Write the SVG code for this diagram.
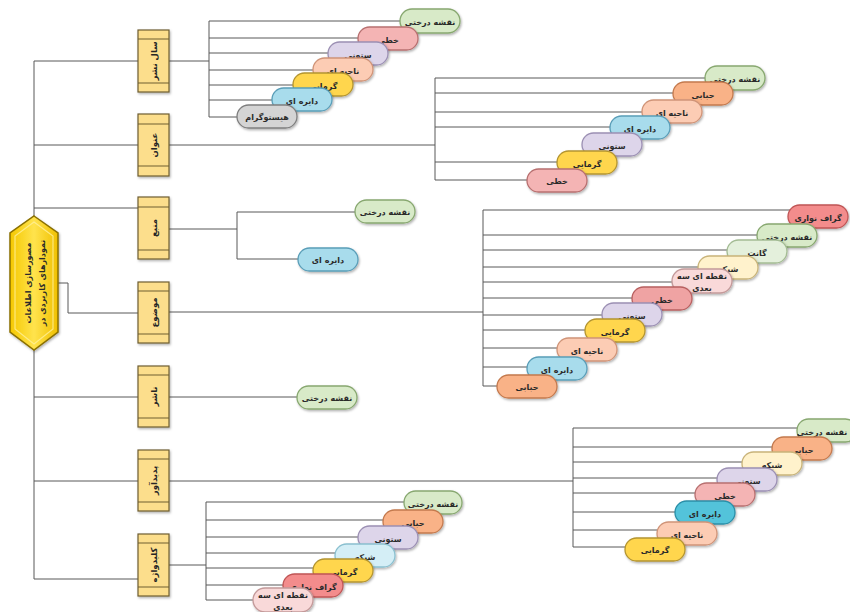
<svg xmlns="http://www.w3.org/2000/svg" width="850" height="612" viewBox="0 0 850 612">
<defs>
<filter id="sh" x="-20%" y="-20%" width="140%" height="150%"><feDropShadow dx="1" dy="1.5" stdDeviation="1" flood-color="#000" flood-opacity="0.3"/></filter>
<linearGradient id="gold" x1="0" y1="0" x2="1" y2="0"><stop offset="0" stop-color="#F5C800"/><stop offset="0.5" stop-color="#FFE34D"/><stop offset="1" stop-color="#F0C000"/></linearGradient>
</defs>
<style>
.ln{fill:none;stroke:#595959;stroke-width:1}
.box{fill:#FCDE8C;stroke:#6E5E30;stroke-width:1.2}
.band{stroke:#6E5E30;stroke-width:1}
.t{font-family:"DejaVu Sans",sans-serif;font-size:8px;font-weight:bold;fill:#2a2a2a;text-anchor:middle}
.bt{font-family:"DejaVu Sans",sans-serif;font-size:8.5px;font-weight:bold;fill:#262626;text-anchor:middle}
.p{stroke-width:1.3;filter:url(#sh)}
.tree{fill:#D8EAC8;stroke:#88A870}
.line{fill:#F4B4B4;stroke:#B87070}
.col{fill:#DDD5EA;stroke:#9C90B4}
.area{fill:#FCCCB4;stroke:#D09478}
.heat{fill:#FFD64D;stroke:#B49530}
.pie{fill:#A8DCEC;stroke:#5A9EB8}
.pie2{fill:#52C3DA;stroke:#2B8FA8}
.hist{fill:#D4D4D4;stroke:#7F7F7F}
.bub{fill:#F9B287;stroke:#C47A4E}
.bar{fill:#F38C8C;stroke:#C05656}
.gantt{fill:#E4F0DC;stroke:#A4BC94}
.net{fill:#FFF2CC;stroke:#C9B47A}
.net2{fill:#D4EEF6;stroke:#8AC0D0}
.sc{fill:#F9D9D9;stroke:#C49A9A}
.line2{fill:#EFA3A3;stroke:#B86060}
</style>
<g id="connectors">
<path class="ln" d="M34 61V579M34 61H138M34 145H138M34 208H138M34 397H138M34 481H138M34 579H138M58 283H68V313H138"/>
<path class="ln" d="M169 61H209M209 21V117M209 21H405M209 38H363M209 53H333M209 70H318M209 85H298M209 100H277M209 117H242"/>
<path class="ln" d="M169 145H435M435 78V180M435 78H710M435 93H678M435 112H647M435 127H615M435 162H562M435 180H532"/>
<path class="ln" d="M169 229H237M237 212V259M237 212H360M237 259H303"/>
<path class="ln" d="M169 312H483M483 210V386M483 210H793M483 235H762M483 250H732M483 267H703M483 282H677M483 298H637M483 315H607M483 330H590M483 348H562M483 367H532M483 386H502"/>
<path class="ln" d="M169 397H302"/>
<path class="ln" d="M169 481H573M573 428V547M573 428H802M573 447H777M573 462H747M573 478H722M573 493H700M573 512H680M573 530H662M573 547H630"/>
<path class="ln" d="M169 565H206M206 502V600M206 502H409M206 520H388M206 537H363M206 553H340M206 568H318M206 585H288M206 600H258"/>
</g>
<g id="root">
<polygon points="34,216 58,233 58,332 34,350 10,332 10,233" fill="url(#gold)" stroke="#8A7000" stroke-width="1.5" filter="url(#sh)"/>
<polygon points="34,222 53,236 53,329 34,344 15,329 15,236" fill="none" stroke="#FFF09A" stroke-width="1.2" opacity="0.8"/>
<text class="t" transform="translate(34,283) rotate(-90)"><tspan x="0" y="-3.5">مصورسازی اطلاعات</tspan><tspan x="0" y="10.5">نمودارهای کاربردی در</tspan></text>
</g>
<g id="cat-year"><rect class="box" x="138" y="30" width="31" height="62" filter="url(#sh)"/><path class="band" d="M138 39H169M138 83H169"/><text class="bt" transform="translate(153.5,61) rotate(-90)" y="3.5">سال نشر</text></g>
<g id="cat-title"><rect class="box" x="138" y="114" width="31" height="62" filter="url(#sh)"/><path class="band" d="M138 124H169M138 166H169"/><text class="bt" transform="translate(153.5,145) rotate(-90)" y="3.5">عنوان</text></g>
<g id="cat-source"><rect class="box" x="138" y="197" width="31" height="62" filter="url(#sh)"/><path class="band" d="M138 207H169M138 250H169"/><text class="bt" transform="translate(153.5,228) rotate(-90)" y="3.5">منبع</text></g>
<g id="cat-subject"><rect class="box" x="138" y="282" width="31" height="61" filter="url(#sh)"/><path class="band" d="M138 291H169M138 334H169"/><text class="bt" transform="translate(153.5,312.5) rotate(-90)" y="3.5">موضوع</text></g>
<g id="cat-publisher"><rect class="box" x="138" y="366" width="31" height="61" filter="url(#sh)"/><path class="band" d="M138 375H169M138 418H169"/><text class="bt" transform="translate(153.5,396.5) rotate(-90)" y="3.5">ناشر</text></g>
<g id="cat-author"><rect class="box" x="138" y="450" width="31" height="61" filter="url(#sh)"/><path class="band" d="M138 459H169M138 502H169"/><text class="bt" transform="translate(153.5,480.5) rotate(-90)" y="3.5">پدیدآور</text></g>
<g id="cat-keyword"><rect class="box" x="138" y="534" width="31" height="62" filter="url(#sh)"/><path class="band" d="M138 543H169M138 587H169"/><text class="bt" transform="translate(153.5,565) rotate(-90)" y="3.5">کلیدواژه</text></g>

<g id="year-items">
<g id="y1"><rect class="p tree" x="400" y="9" width="60" height="24" rx="12"/><text class="t" x="430" y="25">نقشه درختی</text></g>
<g id="y2"><rect class="p line" x="358" y="27" width="60" height="23" rx="11.5"/><text class="t" x="388" y="43">خطی</text></g>
<g id="y3"><rect class="p col" x="328" y="42" width="60" height="23" rx="11.5"/><text class="t" x="358" y="58">ستونی</text></g>
<g id="y4"><rect class="p area" x="313" y="58" width="60" height="23" rx="11.5"/><text class="t" x="343" y="74">ناحیه ای</text></g>
<g id="y5"><rect class="p heat" x="293" y="73" width="60" height="23" rx="11.5"/><text class="t" x="323" y="89">گرمایی</text></g>
<g id="y6"><rect class="p pie" x="272" y="88" width="60" height="23" rx="11.5"/><text class="t" x="302" y="104">دایره ای</text></g>
<g id="y7"><rect class="p hist" x="237" y="105" width="60" height="23" rx="11.5"/><text class="t" x="267" y="120">هیستوگرام</text></g>
</g>

<g id="title-items">
<g id="t1"><rect class="p tree" x="705" y="66" width="60" height="24" rx="12"/><text class="t" x="735" y="82">نقشه درختی</text></g>
<g id="t2"><rect class="p bub" x="673" y="82" width="60" height="23" rx="11.5"/><text class="t" x="703" y="98">حبابی</text></g>
<g id="t3"><rect class="p area" x="642" y="100" width="60" height="23" rx="11.5"/><text class="t" x="672" y="116">ناحیه ای</text></g>
<g id="t4"><rect class="p pie" x="610" y="116" width="60" height="23" rx="11.5"/><text class="t" x="640" y="132">دایره ای</text></g>
<g id="t5"><rect class="p col" x="582" y="133" width="60" height="23" rx="11.5"/><text class="t" x="612" y="149">ستونی</text></g>
<g id="t6"><rect class="p heat" x="557" y="151" width="60" height="23" rx="11.5"/><text class="t" x="587" y="167">گرمایی</text></g>
<g id="t7"><rect class="p line" x="527" y="169" width="60" height="23" rx="11.5"/><text class="t" x="557" y="184">خطی</text></g>
</g>

<g id="source-items">
<g id="s1"><rect class="p tree" x="355" y="200" width="60" height="23" rx="11.5"/><text class="t" x="385" y="215">نقشه درختی</text></g>
<g id="s2"><rect class="p pie" x="298" y="248" width="60" height="23" rx="11.5"/><text class="t" x="328" y="263">دایره ای</text></g>
</g>

<g id="subject-items">
<g id="m1"><rect class="p bar" x="788" y="205" width="60" height="23" rx="11.5"/><text class="t" x="818" y="221">گراف نواری</text></g>
<g id="m2"><rect class="p tree" x="757" y="224" width="60" height="23" rx="11.5"/><text class="t" x="787" y="240">نقشه درختی</text></g>
<g id="m3"><rect class="p gantt" x="727" y="240" width="60" height="23" rx="11.5"/><text class="t" x="757" y="256">گانت</text></g>
<g id="m4"><rect class="p net" x="698" y="256" width="60" height="23" rx="11.5"/><text class="t" x="728" y="272">شبکه</text></g>
<g id="m5"><rect class="p sc" x="672" y="269" width="60" height="24" rx="12"/><text class="t" x="702" y="279">نقطه ای سه</text><text class="t" x="702" y="291">بعدی</text></g>
<g id="m6"><rect class="p line2" x="632" y="287" width="60" height="23" rx="11.5"/><text class="t" x="662" y="303">خطی</text></g>
<g id="m7"><rect class="p col" x="602" y="303" width="60" height="23" rx="11.5"/><text class="t" x="632" y="319">ستونی</text></g>
<g id="m8"><rect class="p heat" x="585" y="319" width="60" height="23" rx="11.5"/><text class="t" x="615" y="335">گرمایی</text></g>
<g id="m9"><rect class="p area" x="557" y="338" width="60" height="23" rx="11.5"/><text class="t" x="587" y="354">ناحیه ای</text></g>
<g id="m10"><rect class="p pie" x="527" y="357" width="60" height="23" rx="11.5"/><text class="t" x="557" y="373">دایره ای</text></g>
<g id="m11"><rect class="p bub" x="497" y="375" width="60" height="23" rx="11.5"/><text class="t" x="527" y="390">حبابی</text></g>
</g>

<g id="publisher-items">
<g id="n1"><rect class="p tree" x="297" y="386" width="60" height="23" rx="11.5"/><text class="t" x="327" y="401">نقشه درختی</text></g>
</g>

<g id="author-items">
<g id="a1"><rect class="p tree" x="797" y="419" width="60" height="23" rx="11.5"/><text class="t" x="822" y="435">نقشه درختی</text></g>
<g id="a2"><rect class="p bub" x="772" y="437" width="60" height="23" rx="11.5"/><text class="t" x="802" y="453">حبابی</text></g>
<g id="a3"><rect class="p net" x="742" y="452" width="60" height="23" rx="11.5"/><text class="t" x="772" y="468">شبکه</text></g>
<g id="a4"><rect class="p col" x="717" y="468" width="60" height="23" rx="11.5"/><text class="t" x="747" y="484">ستونی</text></g>
<g id="a5"><rect class="p line" x="695" y="483" width="60" height="23" rx="11.5"/><text class="t" x="725" y="499">خطی</text></g>
<g id="a6"><rect class="p pie2" x="675" y="501" width="60" height="23" rx="11.5"/><text class="t" x="705" y="517">دایره ای</text></g>
<g id="a7"><rect class="p area" x="657" y="522" width="60" height="23" rx="11.5"/><text class="t" x="687" y="538">ناحیه ای</text></g>
<g id="a8"><rect class="p heat" x="625" y="538" width="60" height="23" rx="11.5"/><text class="t" x="655" y="553">گرمایی</text></g>
</g>

<g id="keyword-items">
<g id="k1"><rect class="p tree" x="404" y="491" width="58" height="23" rx="11.5"/><text class="t" x="433" y="507">نقشه درختی</text></g>
<g id="k2"><rect class="p bub" x="383" y="510" width="60" height="23" rx="11.5"/><text class="t" x="413" y="526">حبابی</text></g>
<g id="k3"><rect class="p col" x="358" y="526" width="60" height="23" rx="11.5"/><text class="t" x="388" y="542">ستونی</text></g>
<g id="k4"><rect class="p net2" x="335" y="544" width="60" height="23" rx="11.5"/><text class="t" x="365" y="560">شبکه</text></g>
<g id="k5"><rect class="p heat" x="313" y="559" width="60" height="23" rx="11.5"/><text class="t" x="343" y="575">گرمایی</text></g>
<g id="k6"><rect class="p bar" x="283" y="574" width="60" height="23" rx="11.5"/><text class="t" x="313" y="590">گراف نواری</text></g>
<g id="k7"><rect class="p sc" x="253" y="588" width="60" height="24" rx="12"/><text class="t" x="283" y="598">نقطه ای سه</text><text class="t" x="283" y="610">بعدی</text></g>
</g>
</svg>
